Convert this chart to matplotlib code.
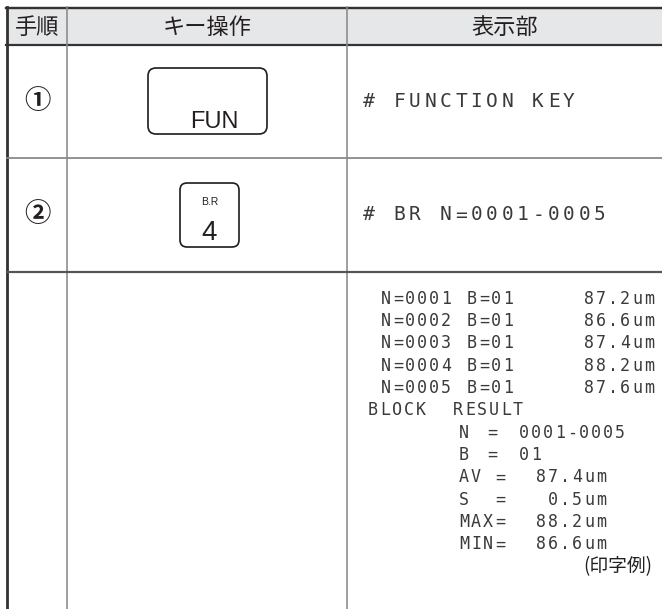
import matplotlib.pyplot as plt
from matplotlib.patches import Rectangle, FancyBboxPatch

plt.rcParams['font.family'] = ['Noto Sans CJK JP', 'DejaVu Sans']

# table text
headers = ['手順', 'キー操作', '表示部']
steps = ['①', '②']
key_labels = ['FUN', '4']
key_sub = ['', 'B.R']
display_top = ['# FUNCTION KEY', '# BR N=0001-0005']

# printed result
blocks = ['0001', '0002', '0003', '0004', '0005']
block_b = '01'
values = [87.2, 86.6, 87.4, 88.2, 87.6]
n_range = '0001-0005'
stat_av = 87.4
stat_s = 0.5
stat_max = 88.2
stat_min = 86.6
note = '(印字例)'

W, H = 662, 609
fig = plt.figure(figsize=(W / 100, H / 100), dpi=100)
ax = fig.add_axes([0, 0, 1, 1])
ax.set_xlim(0, W)
ax.set_ylim(H, 0)
ax.axis('off')

dark = '#333333'
gray = '#8a8a8a'
ink = '#231f20'
px = 0.72  # one pixel in points
col1, col2 = 67, 347

# grid
ax.add_patch(Rectangle((7, 7), W - 7, 38, facecolor='#e6e7e8', edgecolor='none'))
ax.plot([6, W], [7.5, 7.5], color=dark, lw=2.4 * px)
ax.plot([6, W], [45, 45], color=dark, lw=2.2 * px)
ax.plot([7, 7], [6.5, H], color=dark, lw=2.8 * px)
for x in [col1, col2]:
    ax.plot([x, x], [7, H], color=gray, lw=1.6 * px)
ax.plot([7, W], [158, 158], color=gray, lw=1.8 * px)
ax.plot([7, W], [272, 272], color='#555555', lw=2.2 * px)

# header
for x, t in zip([37, 207, 505], headers):
    ax.text(x, 27, t, ha='center', va='center', fontsize=16, color=ink)

# step numbers
for y, t in zip([101.5, 215], steps):
    ax.text(37, y, t, ha='center', va='center', fontsize=19,
            fontweight='bold', color=ink)

# keys
ax.add_patch(FancyBboxPatch((148, 68), 119, 66, boxstyle='round,pad=0,rounding_size=8',
                            facecolor='none', edgecolor=ink, lw=1.7 * px))
ax.text(214, 122, key_labels[0], ha='center', va='center', fontsize=17,
        family='Liberation Sans', color=ink)
ax.add_patch(FancyBboxPatch((180, 183), 59, 64, boxstyle='round,pad=0,rounding_size=7',
                            facecolor='none', edgecolor=ink, lw=1.7 * px))
ax.text(209.5, 202, key_sub[1], ha='center', va='center', fontsize=7.5,
        family='Liberation Sans', color=ink)
ax.text(209.5, 233, key_labels[1], ha='center', va='center', fontsize=20,
        family='Liberation Sans', color=ink)


def lcd(x, y, s, pitch=12, size=12, right=False):
    # dot-matrix style: one glyph per fixed cell
    if right:
        x = x - pitch * len(s)
    for i, c in enumerate(s):
        if c != ' ':
            ax.text(x + (i + 0.5) * pitch, y, c, ha='center', va='center',
                    fontsize=size, family='DejaVu Sans Mono', color='#3a3a3a')


for y, t in zip([101.5, 215], display_top):
    lcd(361, y, t, pitch=15.4, size=14)

y0, dy = 298.5, 22.35
for i, (n, v) in enumerate(zip(blocks, values)):
    y = y0 + i * dy
    lcd(380, y, 'N=' + n)
    lcd(466, y, 'B=' + block_b)
    lcd(655, y, '%.1fum' % v, right=True)

y = y0 + 5 * dy
lcd(367, y, 'BLOCK')
lcd(452, y, 'RESULT')

stats = [('N', n_range, False),
         ('B', block_b, False),
         ('AV', '%.1fum' % stat_av, True),
         ('S', '%.1fum' % stat_s, True),
         ('MAX', '%.1fum' % stat_max, True),
         ('MIN', '%.1fum' % stat_min, True)]
for j, (k, val, unit) in enumerate(stats):
    y = y0 + (6 + j) * dy
    lcd(458, y, k)
    if unit:
        lcd(494, y, '=')
        lcd(607, y, val, right=True)
    else:
        lcd(486, y, '=')
        lcd(518, y, val)

ax.text(652, y0 + 12 * dy, note, ha='right', va='center', fontsize=13.5, color=ink)

fig.savefig('out.png', dpi=100)
